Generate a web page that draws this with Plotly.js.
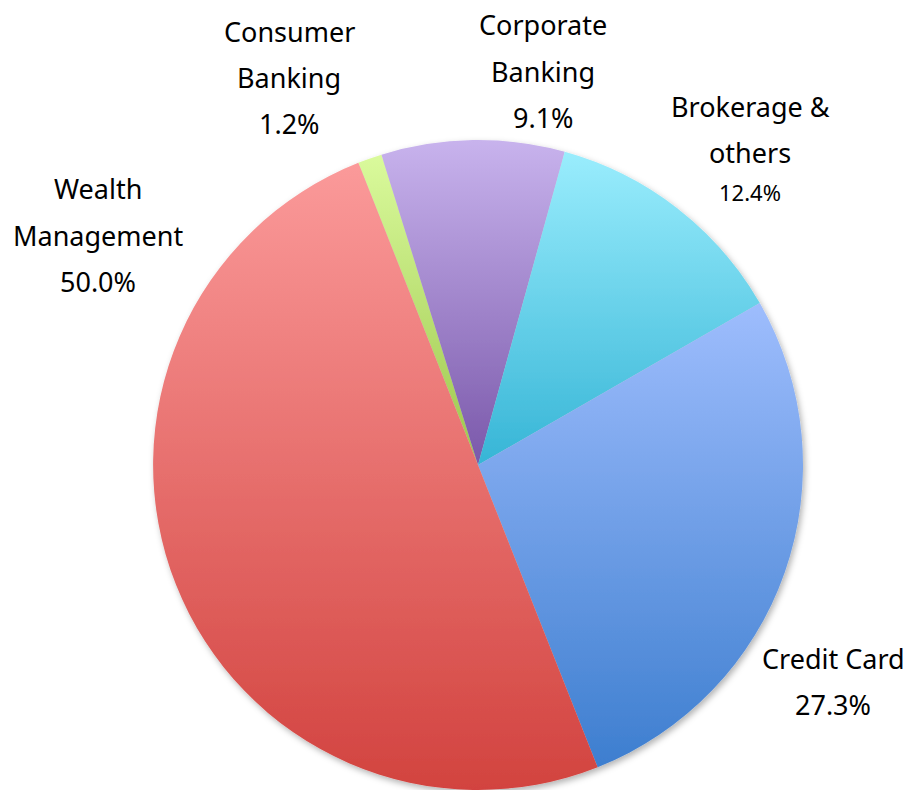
<!DOCTYPE html>
<html>
<head>
<meta charset="utf-8">
<script src="https://cdn.plot.ly/plotly-3.0.1.min.js"></script>
<style>
html,body{margin:0;padding:0;background:#fff;}
#chart{width:909px;height:790px;}
</style>
</head>
<body>
<div id="chart"></div>
<script>
// ---- data ----
var segments = ["Consumer Banking", "Corporate Banking", "Brokerage & others", "Credit Card", "Wealth Management"];
var nameLines = [["Consumer", "Banking"], ["Corporate", "Banking"], ["Brokerage &", "others"], ["Credit Card"], ["Wealth", "Management"]];
var shares = [1.2, 9.1, 12.4, 27.3, 50.0];

// ---- styles ----
var topColors = ["#dafa9c", "#c8b3ed", "#9aedfd", "#9ebdfd", "#fb9a9a"];
var bottomColors = ["#9cc64c", "#7a58aa", "#36b5d6", "#3d7ecf", "#d2433f"];
var midColors = ["#bde074", "#a186cc", "#68d1ea", "#6e9ee6", "#e66e6c"];
// label anchor centres in pixels [x, first-line y]
var labelAnchor = [[289, 32], [543, 25], [750, 106], [833, 658], [98, 189]];
var valueFont = [27, 27, 22, 27, 27];
var lineGap = 46;
var W = 909, H = 790;

var trace = {
  type: "pie",
  labels: segments,
  values: shares,
  sort: false,
  direction: "clockwise",
  rotation: -21.6,
  textinfo: "none",
  hoverinfo: "label+percent",
  marker: { colors: midColors, line: { width: 0 } },
  domain: { x: [(478 - 325) / W, (478 + 325) / W], y: [0, 650 / H] },
  showlegend: false
};

var annotations = [];
for (var i = 0; i < segments.length; i++) {
  var ax = labelAnchor[i][0], ay = labelAnchor[i][1];
  var lines = nameLines[i];
  for (var j = 0; j < lines.length; j++) {
    annotations.push({
      xref: "paper", yref: "paper",
      x: ax / W, y: 1 - (ay + j * lineGap) / H,
      xanchor: "center", yanchor: "middle",
      text: lines[j], showarrow: false,
      font: { family: "Noto Sans, Open Sans, sans-serif", size: 27, color: "#000" }
    });
  }
  var gap = (i === 2) ? 40 : lineGap;
  annotations.push({
    xref: "paper", yref: "paper",
    x: ax / W, y: 1 - (ay + (lines.length - 1) * lineGap + gap) / H,
    xanchor: "center", yanchor: "middle",
    text: shares[i].toFixed(1) + "%", showarrow: false,
    font: { family: "Noto Sans, Open Sans, sans-serif", size: valueFont[i], color: "#000" }
  });
}

var layout = {
  width: W, height: H,
  margin: { l: 0, r: 0, t: 0, b: 0 },
  paper_bgcolor: "#fff",
  showlegend: false,
  annotations: annotations
};

Plotly.newPlot("chart", [trace], layout, { displayModeBar: false, staticPlot: true }).then(function (gd) {
  var svg = gd.querySelector(".main-svg");
  var ns = "http://www.w3.org/2000/svg";
  var defs = document.createElementNS(ns, "defs");
  // drop shadow
  var filt = document.createElementNS(ns, "filter");
  filt.setAttribute("id", "pieShadow");
  filt.setAttribute("x", "-10%"); filt.setAttribute("y", "-10%");
  filt.setAttribute("width", "120%"); filt.setAttribute("height", "120%");
  var ds = document.createElementNS(ns, "feDropShadow");
  ds.setAttribute("dx", "2"); ds.setAttribute("dy", "3");
  ds.setAttribute("stdDeviation", "3");
  ds.setAttribute("flood-color", "#000"); ds.setAttribute("flood-opacity", "0.3");
  filt.appendChild(ds);
  defs.appendChild(filt);
  for (var k = 0; k < segments.length; k++) {
    var g = document.createElementNS(ns, "linearGradient");
    g.setAttribute("id", "grad" + k);
    g.setAttribute("x1", "0"); g.setAttribute("y1", "0");
    g.setAttribute("x2", "0"); g.setAttribute("y2", "1");
    var s1 = document.createElementNS(ns, "stop");
    s1.setAttribute("offset", "0"); s1.setAttribute("stop-color", topColors[k]);
    var s2 = document.createElementNS(ns, "stop");
    s2.setAttribute("offset", "1"); s2.setAttribute("stop-color", bottomColors[k]);
    g.appendChild(s1); g.appendChild(s2);
    defs.appendChild(g);
  }
  svg.insertBefore(defs, svg.firstChild);
  var slices = gd.querySelectorAll(".slice path.surface");
  slices.forEach(function (p, idx) {
    p.style.fill = "url(#grad" + idx + ")";
  });
  var pieGroup = gd.querySelector(".pielayer .trace");
  if (pieGroup) pieGroup.setAttribute("filter", "url(#pieShadow)");
});
</script>
</body>
</html>
